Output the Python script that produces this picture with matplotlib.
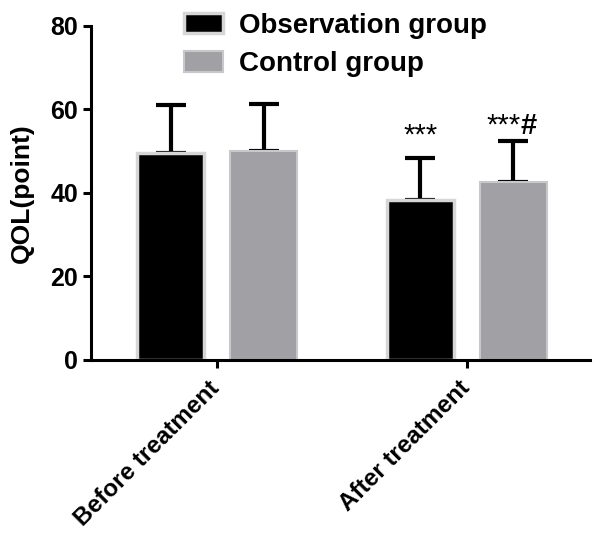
import matplotlib
matplotlib.use("Agg")
import matplotlib.pyplot as plt
import matplotlib.transforms as mtrans
import numpy as np

plt.rcParams['font.family'] = ['Liberation Sans', 'DejaVu Sans']
plt.rcParams['font.weight'] = 'bold'

# data
groups = ["Before treatment", "After treatment"]
obs_mean = [49.5, 38.2]
obs_sd = [11.6, 10.2]
ctl_mean = [50.0, 42.7]
ctl_sd = [11.4, 9.8]
obs_marks = ["", "***"]
ctl_marks = ["", "***"]
ctl_hash = ["", "#"]

fig = plt.figure(figsize=(6.0, 5.38), dpi=100)
ax = fig.add_axes([0.152, 0.331, 0.831, 0.621])

x = np.arange(len(groups))
w = 0.268
off = 0.186

ax.bar(x - off, obs_mean, w, color='black', edgecolor='#d6d6d6', linewidth=2.5,
       label='Observation group', zorder=2)
ax.bar(x + off, ctl_mean, w, color='#a1a1a5', edgecolor='#c8c8cb', linewidth=1.5,
       label='Control group', zorder=2)

zeros = [0] * len(groups)
ax.errorbar(x - off, obs_mean, yerr=[zeros, obs_sd], fmt='none', ecolor='black',
            elinewidth=3, capsize=11, capthick=3, zorder=1)
ax.errorbar(x + off, ctl_mean, yerr=[zeros, ctl_sd], fmt='none', ecolor='black',
            elinewidth=3, capsize=11, capthick=3, zorder=1)

# significance marks
for i in range(len(groups)):
    if obs_marks[i]:
        ax.text(x[i] - off, obs_mean[i] + obs_sd[i] + 3.4, obs_marks[i],
                ha='center', va='baseline', fontsize=21, fontweight='normal')
    if ctl_marks[i]:
        ax.text(x[i] + off + 0.03, ctl_mean[i] + ctl_sd[i] + 1.6, ctl_marks[i],
                ha='right', va='baseline', fontsize=21, fontweight='normal')
        ax.text(x[i] + off + 0.03, ctl_mean[i] + ctl_sd[i] + 1.6, ctl_hash[i],
                ha='left', va='baseline', fontsize=21, fontweight='bold')

ax.set_xlim(-0.504, 1.492)
ax.set_ylim(0, 80)
ax.set_yticks([0, 20, 40, 60, 80])
ax.set_xticks(x)
ax.set_xticklabels(groups, rotation=45, ha='right', rotation_mode='anchor',
                   fontsize=17.5, fontweight='bold')
ax.tick_params(axis='y', labelsize=18, width=2.2, length=6)
ax.tick_params(axis='x', width=2.2, length=6, pad=6)
for lab in ax.get_yticklabels():
    lab.set_fontweight('bold')
# nudge the rotated labels left so they end at the tick
shift = mtrans.ScaledTranslation(-9 / 100, 0, fig.dpi_scale_trans)
for lab in ax.get_xticklabels():
    lab.set_transform(lab.get_transform() + shift)
ax.set_ylabel("QOL(point)", fontsize=19, fontweight='bold', labelpad=12)

for s in ['top', 'right']:
    ax.spines[s].set_visible(False)
for s in ['left', 'bottom']:
    ax.spines[s].set_linewidth(2.2)

ax.legend(loc='upper left', bbox_to_anchor=(0.288, 0.997), bbox_transform=fig.transFigure,
          frameon=False, handlelength=1.4, handleheight=0.75,
          handletextpad=0.6, labelspacing=0.45, borderaxespad=0.0,
          prop={'weight': 'bold', 'size': 20})

fig.savefig("out.png", dpi=100)
